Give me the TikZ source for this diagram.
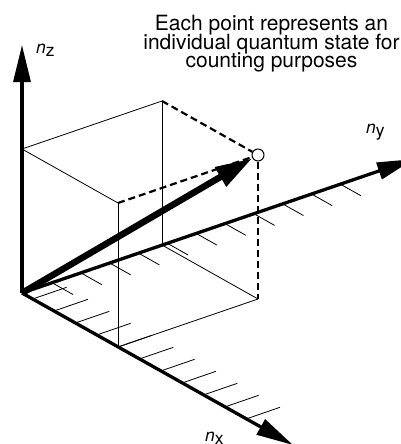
\documentclass[tikz,border=0pt]{standalone}
\usepackage{fontspec}
\setmainfont{TeX Gyre Heros}
\usetikzlibrary{arrows.meta,calc}
\setlength{\lineskiplimit}{-20pt}
\tikzset{
  axisline/.style={line width=3.3pt,-{Triangle[length=37pt,width=17pt]}},
  vecline/.style={line width=6.5pt,-{Triangle[length=37pt,width=21pt]}},
  edgeline/.style={line width=0.8pt},
  hiddenline/.style={line width=2.2pt,dash pattern=on 7pt off 4pt},
  tickline/.style={line width=0.8pt},
  statept/.style={circle,draw,line width=1pt,minimum size=12pt,inner sep=0pt},
  axlabel/.style={inner sep=0pt,font=\fontsize{17.5}{20}\selectfont},
  notebox/.style={inner sep=0pt,align=center,font=\fontsize{21}{18.5}\selectfont}
}

\begin{document}
\begin{tikzpicture}[x=1pt,y=-1pt]
  \clip (0,0) rectangle (401,444);

  %% corners of the box
  \coordinate (O)  at (22,293);
  \coordinate (Z)  at (22,149);
  \coordinate (A)  at (118,347);
  \coordinate (B)  at (162,245);
  \coordinate (AB) at (258,299);
  \coordinate (ZA) at (118,203);
  \coordinate (ZB) at (162,101);
  \coordinate (P)  at (258,155);

  %% axis ends
  \coordinate (zend) at (22,45);
  \coordinate (xend) at (293,445);
  \coordinate (yend) at (414,159);

  %% ticks
  \foreach \k in {1,...,11}
    \draw[tickline] ($(O)!{(\k-0.5)/4.5}!(A)$) -- ++(34,-11.7);
  \foreach \j in {0,...,10}
    \draw[tickline] ($(O)!{(30+28.8*\j)/140}!(B)$) -- ++(21,11.8);

  %% the state point
  \node[statept] (pt) at (P) {};

  %% box edges
  \draw[edgeline] (Z) -- (ZA);
  \draw[edgeline] (Z) -- (ZB);
  \draw[edgeline] (ZA) -- (A);
  \draw[edgeline] (ZB) -- (B);
  \draw[edgeline] (A) -- (AB);
  \draw[edgeline] (B) -- (AB);
  \draw[hiddenline] (ZB) -- (pt);
  \draw[hiddenline] (ZA) -- (pt);
  \draw[hiddenline] (pt) -- (AB);

  %% axes
  \draw[axisline] (O) -- (zend);
  \draw[axisline] (O) -- (xend);
  \draw[axisline] (O) -- (yend);
  \draw[vecline] (O) -- (pt);

  %% labels
  \node[axlabel,anchor=base west] (nz) at (36,53) {\textit{n}\raisebox{-3pt}{z}};
  \node[axlabel,anchor=base west] (ny) at (366,133) {\textit{n}\raisebox{-3pt}{y}};
  \node[axlabel,anchor=base west] (nx) at (205,441) {\textit{n}\raisebox{-3pt}{x}};

  \node[notebox] (note) at (271.5,43.8)
    {Each point represents an\\individual quantum state for\\counting purposes};
\end{tikzpicture}
\end{document}
